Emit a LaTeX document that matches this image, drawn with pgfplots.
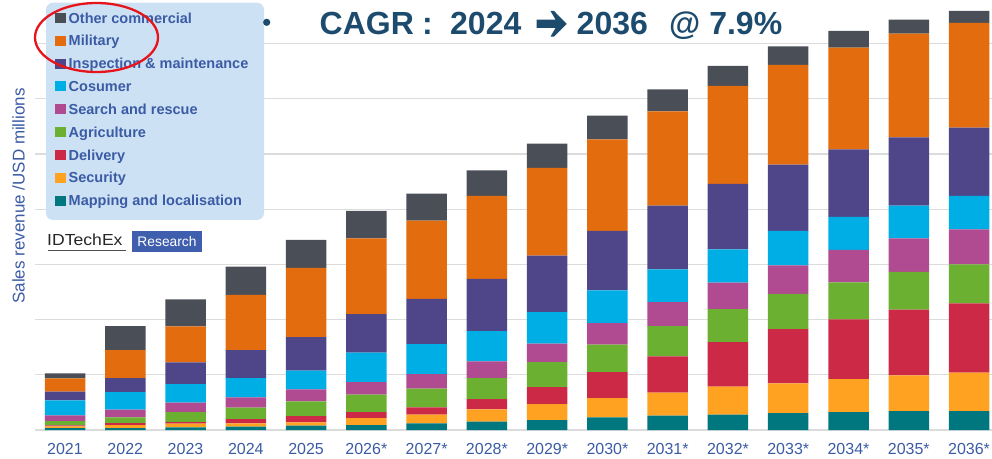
\documentclass[border=0pt]{standalone}
\usepackage{fontspec}
\setmainfont{Liberation Sans}
\usepackage{pgfplots}
\usepackage{pgfplotstable}
\pgfplotsset{compat=1.18}
\definecolor{coth}{HTML}{4A4F57}
\definecolor{cmil}{HTML}{E36C0E}
\definecolor{cins}{HTML}{4E4688}
\definecolor{ccos}{HTML}{00AEE6}
\definecolor{csar}{HTML}{B04A91}
\definecolor{cagr}{HTML}{6BB030}
\definecolor{cdel}{HTML}{CC2946}
\definecolor{csec}{HTML}{FFA221}
\definecolor{cmap}{HTML}{00767E}
\definecolor{gridgray}{HTML}{DCDCDC}
\definecolor{labblue}{HTML}{3B5BA5}
\definecolor{legbg}{HTML}{CDE1F4}
\definecolor{titleblue}{HTML}{1D4B6E}
\definecolor{resblue}{HTML}{3F5FAE}
\definecolor{ellred}{HTML}{E8141B}

\pgfplotstableread{
x map sec del agr sar cos ins mil oth
0  2    1.7  1    4.3  5.7  15   8.6  13.4  5
1  2    3    2    5.7  7.6  17.7 14   28    24
2  2.7  3.6  1.7  10   9.3  18.7 21.7 36    27
3  3.3  3.4  4.3  11.3 10.4 19.3 28   55    28.3
4  4.3  3.4  6.3  14.7 12   18.6 33.7 69    28
5  5    7    6    17.3 12.7 29.3 38.7 75.7  27.3
6  6.7  8.6  7.4  18.6 14.7 30   45   78.3  27
7  8.3  12.4 10.3 21   16.7 30.3 52   83    25.5
8  10   16   17   25   18.3 31.7 56.3 87.7  24.3
9  12.7 19.3 26   27.3 21.7 32.7 59.3 91.7  23.6
10 14.3 23   36.4 30.3 24   32.7 63.6 94.4  22
11 15.3 28   44.7 33   26.3 33.4 65.3 98    20
12 17   29.7 54.3 35   28.7 34.3 66.3 99.7  18.7
13 18   33   59.7 37   32.3 33   67.7 101.6 16.7
14 19   35.7 65.6 37.7 33.7 32.6 68.4 103.6 14
15 19   38.3 69.4 39   35   33.3 68.3 104.7 12
}\datatable

\begin{document}
\begin{tikzpicture}[x=1pt,y=1pt]
\path[use as bounding box] (0,0) rectangle (992,458);
\begin{axis}[
  at={(35pt,28pt)}, anchor=south west, scale only axis,
  width=957pt, height=430pt,
  xmin=-0.4978, xmax=15.381, ymin=0, ymax=430,
  ybar stacked, bar width=40.5pt,
  axis line style={draw=none}, tick style={draw=none},
  ytick={0,55.2,110.4,165.6,220.8,276,331.2,386.4}, yticklabels={},
  ymajorgrids, grid style={color=gridgray, line width=1.3pt},
  xtick={0,...,15},
  xticklabels={2021,2022,2023,2024,2025,2026*,2027*,2028*,2029*,2030*,2031*,2032*,2033*,2034*,2035*,2036*},
  xticklabel style={font=\fontsize{16}{19}\selectfont, text=labblue, yshift=-9.5pt},
  clip=false]
\addplot[fill=cmap, draw=none] table[x=x,y=map]{\datatable};
\addplot[fill=csec, draw=none] table[x=x,y=sec]{\datatable};
\addplot[fill=cdel, draw=none] table[x=x,y=del]{\datatable};
\addplot[fill=cagr, draw=none] table[x=x,y=agr]{\datatable};
\addplot[fill=csar, draw=none] table[x=x,y=sar]{\datatable};
\addplot[fill=ccos, draw=none] table[x=x,y=cos]{\datatable};
\addplot[fill=cins, draw=none] table[x=x,y=ins]{\datatable};
\addplot[fill=cmil, draw=none] table[x=x,y=mil]{\datatable};
\addplot[fill=coth, draw=none] table[x=x,y=oth]{\datatable};
\end{axis}

% y label
\node[rotate=90, text=labblue, font=\fontsize{17}{20}\selectfont] at (18.5,262) {Sales revenue /USD millions};

% legend box
\fill[legbg, rounded corners=7pt] (46,455.3) rectangle (264,238);
\foreach \c/\t [count=\i from 0] in {coth/Other commercial, cmil/Military, cins/Inspection \& maintenance, ccos/Cosumer, csar/Search and rescue, cagr/Agriculture, cdel/Delivery, csec/Security, cmap/Mapping and localisation}{
  \pgfmathsetmacro{\yc}{458-17.9-22.83*\i}
  \fill[\c] (55.3,\yc-5) rectangle (65.6,\yc+5);
  \node[anchor=base west, inner sep=0, text=labblue, font=\fontsize{14.5}{17}\selectfont\bfseries] at (68.5,\yc-5.2) {\t};
}

% red ellipse
\draw[ellred, line width=2.3pt] (96.5,420.5) ellipse [x radius=61.5, y radius=34.5];

% logo
\node[anchor=base west, inner sep=0, text=black!85, font=\fontsize{16}{19}\selectfont, xscale=1.1] at (47,212) {IDTechEx};
\draw[black!70, line width=0.9pt] (48,207.3) -- (126,207.3);
\fill[resblue] (131.7,227) rectangle (202.3,205.7);
\node[text=white, inner sep=0, font=\fontsize{13.8}{16}\selectfont] at (167,216.3) {Research};

% title
\fill[titleblue] (266.7,435.7) circle (3.6);
\begin{scope}[every node/.style={anchor=base west, inner sep=0, text=titleblue, font=\fontsize{32}{36}\selectfont\bfseries}]
\node at (319.5,423.7) {CAGR};
\node at (422,423.7) {:};
\node at (450,423.7) {2024};
\node at (576.5,423.7) {2036};
\node at (669,423.7) {@ 7.9\%};
\end{scope}
\fill[titleblue] (536.7,438.4) -- (555.5,438.4) -- (550.5,447) -- (554,447) -- (566.7,434.2) -- (554,421.4) -- (550.5,421.4) -- (555.5,430) -- (536.7,430) -- cycle;
\end{tikzpicture}
\end{document}
